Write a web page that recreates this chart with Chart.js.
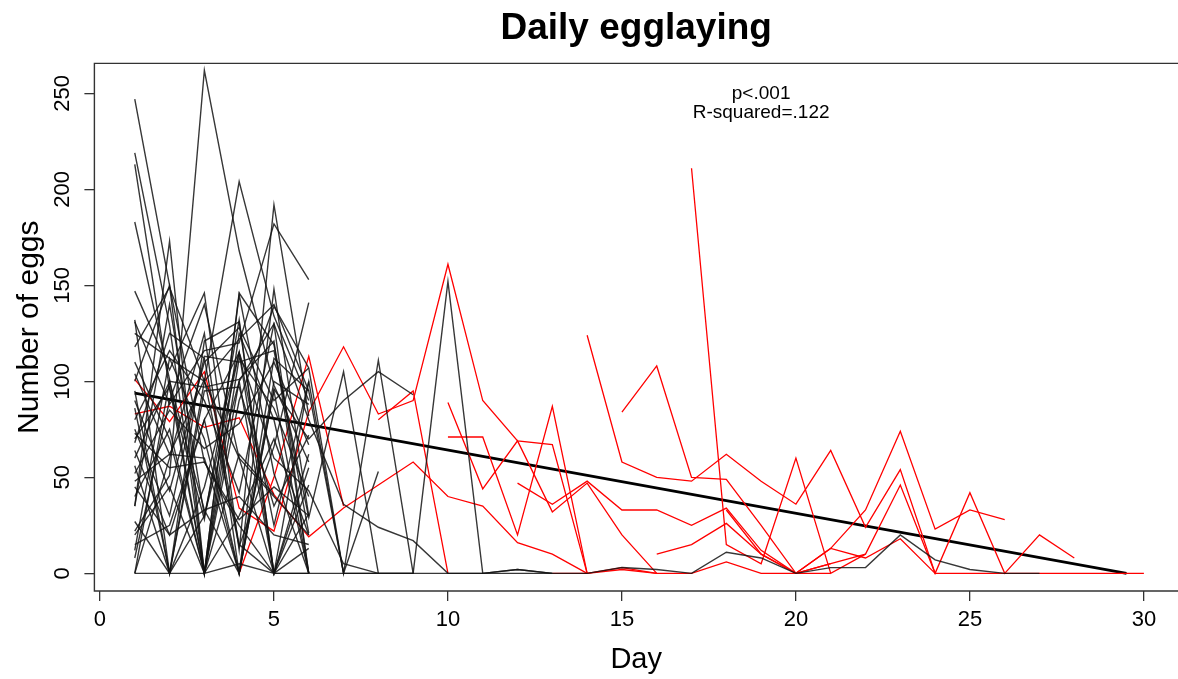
<!DOCTYPE html>
<html>
<head>
<meta charset="utf-8">
<title>Daily egglaying</title>
<script src="https://cdn.jsdelivr.net/npm/chart.js@4.4.1/dist/chart.umd.min.js"></script>
<style>
  html, body { margin: 0; padding: 0; background: #fff; overflow: hidden; }
  #wrap { width: 1178px; height: 679px; }
</style>
</head>
<body>
<div id="wrap"><canvas id="eggChart" width="1178" height="679"></canvas></div>
<script>
// tick labels
const xTicks = [0, 5, 10, 15, 20, 25, 30];
const yTicks = [0, 50, 100, 150, 200, 250];

// black group: first day of each series + eggs per day
const blackStart = [1, 1, 1, 1, 1, 1, 1, 1, 1, 1, 1, 1, 1, 1, 1, 1, 1,
                    1, 1, 1, 1, 1, 1, 1, 1, 1, 1, 1, 1, 1, 1, 1, 11,
                    1, 1, 1, 1, 1, 1];
const blackEggs = [
    [247, 150, 58, 25, 0, 31],
    [219, 129, 0, 112, 86, 40],
    [213, 96, 28, 132, 0, 0],
    [183, 101, 0, 146, 119, 21],
    [35, 173, 0, 62, 41],
    [22, 51, 262, 168, 98, 58],
    [147, 106, 146, 12, 192, 82],
    [131, 88, 116, 120, 182, 153],
    [118, 149, 100, 204, 134, 90],
    [104, 62, 101, 14, 66, 141],
    [100, 150, 0, 145, 52, 0],
    [86, 0, 121, 131, 0, 62],
    [80, 116, 90, 42, 130, 80, 36, 24, 17, 0, 0],
    [75, 30, 113, 110, 116, 29, 105, 0],
    [70, 97, 0, 90, 139, 107, 0, 111, 0],
    [64, 20, 80, 0, 96, 70, 90, 105, 93],
    [56, 0, 45, 115, 25, 100, 0, 0, 0, 152, 0, 2, 0],
    [48, 62, 60, 0, 112, 95, 0, 53],
    [35, 140, 30, 100, 0, 55],
    [27, 0, 100, 60, 40, 20],
    [20, 45, 0, 125, 80, 0],
    [12, 112, 70, 0, 148, 30],
    [8, 90, 140, 60, 0, 100],
    [0, 100, 33, 0, 95, 0],
    [0, 0, 0, 5, 0, 0, 0, 0, 0, 0, 0, 0, 0],
    [0, 60, 125, 0, 100, 88],
    [110, 70, 0, 30, 70, 20],
    [95, 0, 30, 115, 0, 46],
    [68, 125, 112, 15, 0, 13],
    [40, 75, 0, 100, 130, 0],
    [132, 0, 95, 97, 35, 72],
    [15, 25, 80, 115, 60, 43, 5, 0, 0],
    [0, 2, 0, 0, 3, 2, 0, 11, 8, 0, 3, 3, 20, 7, 2, 0, 0],
    [52, 85, 65, 78, 110, 67],
    [90, 43, 110, 128, 90, 107],
    [60, 100, 97, 101, 121, 0],
    [125, 112, 100, 122, 140, 95],
    [73, 55, 58, 28, 45, 30],
    [45, 20, 33, 40, 20, 15]
];

// red group
const redStart = [1, 1, 4, 8, 10, 10, 12, 14, 15, 17, 16, 18, 20, 13];
const redEggs = [
    [101, 79, 105, 34, 22, 84, 118, 83, 90, 161, 90, 69, 67, 0],
    [83, 87, 76, 81, 41, 19, 34, 46, 58, 40, 35, 16, 10, 0],
    [0, 50, 113, 35],
    [80, 95, 0],
    [89, 44, 69, 32, 47, 20, 0],
    [71, 71, 20, 87, 0, 3, 0],
    [47, 36, 48, 33, 33, 25, 34, 12, 0],
    [124, 58, 50, 48, 62, 48, 36, 64, 24, 54, 0, 42, 0, 20, 8],
    [84, 108, 50, 49, 25, 0, 5],
    [211, 15, 5, 60, 0, 10],
    [10, 15, 26, 10, 0, 13, 33, 74, 23, 33, 28],
    [33, 10, 0, 13, 8, 18, 0],
    [0, 5, 10, 46, 0, 0, 0, 0, 0, 0, 0],
    [0, 0, 2, 0, 0, 6, 0, 0, 0]
];

// fitted line
const fitDays = [1, 29.5];
const fitEggs = [93.9, 0];

// text in the plot
const noteDay = 19;
const noteEggs = [250, 240];
const noteText = ['p<.001', 'R-squared=.122'];

const FONT = '"Liberation Sans", Arial, Helvetica, sans-serif';

function toPoints(start, vals) {
    return vals.map((v, i) => ({ x: start + i, y: v }));
}

const datasets = [];
blackEggs.forEach((vals, i) => {
    datasets.push({
        data: toPoints(blackStart[i], vals),
        borderColor: 'rgba(20,20,20,0.85)',
        borderWidth: 1.4
    });
});
redEggs.forEach((vals, i) => {
    datasets.push({
        data: toPoints(redStart[i], vals),
        borderColor: '#ff0000',
        borderWidth: 1.3
    });
});
datasets.push({
    data: fitDays.map((d, i) => ({ x: d, y: fitEggs[i] })),
    borderColor: '#000',
    borderWidth: 2.8
});

// box round the plot + the p / R-squared text
const boxPlugin = {
    id: 'rbox',
    afterDraw(chart) {
        const { ctx, chartArea: a, scales } = chart;
        ctx.save();
        ctx.strokeStyle = '#333';
        ctx.lineWidth = 1.4;
        ctx.beginPath();
        ctx.moveTo(a.right + 2, a.top);
        ctx.lineTo(a.left, a.top);
        ctx.lineTo(a.left, a.bottom);
        ctx.lineTo(a.right + 2, a.bottom);
        ctx.stroke();

        ctx.fillStyle = '#000';
        ctx.font = '19px ' + FONT;
        ctx.textAlign = 'center';
        ctx.textBaseline = 'middle';
        noteText.forEach((t, i) => {
            ctx.fillText(t, scales.x.getPixelForValue(noteDay), scales.y.getPixelForValue(noteEggs[i]));
        });
        ctx.restore();
    }
};

new Chart(document.getElementById('eggChart'), {
    type: 'line',
    data: { datasets },
    plugins: [boxPlugin],
    options: {
        responsive: false,
        devicePixelRatio: 1,
        animation: false,
        layout: { padding: 0 },
        elements: {
            point: { radius: 0, hoverRadius: 0 },
            line: { tension: 0, fill: false }
        },
        plugins: {
            legend: { display: false },
            tooltip: { enabled: false },
            title: {
                display: true,
                fullSize: false,
                text: 'Daily egglaying',
                color: '#000',
                font: { family: FONT, size: 37, weight: 'bold' },
                padding: { top: 7, bottom: 12 }
            }
        },
        scales: {
            x: {
                type: 'linear',
                min: -0.16,
                max: 30.98,
                afterBuildTicks: s => { s.ticks = xTicks.map(v => ({ value: v })); },
                afterFit: s => { s.height = 88; },
                border: { display: false },
                grid: { drawOnChartArea: false, drawTicks: true, tickLength: 10, color: '#333', lineWidth: 1.3 },
                ticks: { color: '#000', font: { family: FONT, size: 22 }, padding: 6, maxRotation: 0, autoSkip: false },
                title: { display: true, text: 'Day', color: '#000', font: { family: FONT, size: 29 }, padding: { top: 0, bottom: 2 } }
            },
            y: {
                type: 'linear',
                min: -9.2,
                max: 265.6,
                afterBuildTicks: s => { s.ticks = yTicks.map(v => ({ value: v })); },
                afterFit: s => { s.width = 94.4; },
                border: { display: false },
                grid: { drawOnChartArea: false, drawTicks: true, tickLength: 10, color: '#333', lineWidth: 1.3 },
                ticks: { color: '#000', font: { family: FONT, size: 22 }, padding: 3, minRotation: 90, maxRotation: 90, crossAlign: 'center', autoSkip: false },
                title: { display: true, text: 'Number of eggs', color: '#000', font: { family: FONT, size: 30 }, padding: { top: 12, bottom: 0 } }
            }
        }
    }
});
</script>
</body>
</html>
